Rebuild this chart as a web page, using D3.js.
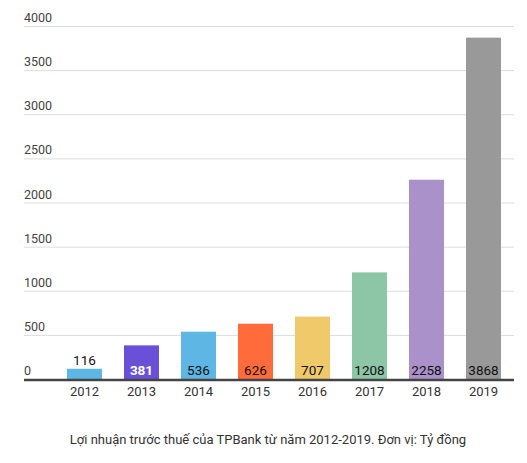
<!DOCTYPE html>
<html><head><meta charset="utf-8">
<script src="https://cdn.jsdelivr.net/npm/d3@7"></script>
<style>
html,body{margin:0;padding:0;background:#fff;}
svg{display:block;font-family:Roboto, "Noto Sans", sans-serif;}
</style></head>
<body>
<svg id="c" width="527" height="463"></svg>
<script>
const years = ["2012","2013","2014","2015","2016","2017","2018","2019"];
const profits = [116, 381, 536, 626, 707, 1208, 2258, 3868];
const barColors = ["#5db6e4","#6a50d8","#5db6e4","#ff6b3a","#f0ca6a","#8dc5a7","#aa91c9","#999999"];
const labelColors = ["#111","#fff","#111","#111","#111","#111","#111","#111"];
const yTicks = [0, 500, 1000, 1500, 2000, 2500, 3000, 3500, 4000];
const caption = "Lợi nhuận trước thuế của TPBank từ năm 2012-2019. Đơn vị: Tỷ đồng";

const svg = d3.select("#c");
const left = 24, right = 514;
const y = d3.scaleLinear().domain([0, 4000]).range([379, 26]);
const x = d3.scaleBand().domain(years).range([56, 512]).paddingInner(22/57).paddingOuter(11/57);

// gridlines + tick labels
const g = svg.append("g");
yTicks.forEach(t => {
  if (t !== 0) {
    g.append("line").attr("x1", left).attr("x2", right)
      .attr("y1", y(t) + 0.5).attr("y2", y(t) + 0.5)
      .attr("stroke", "#dcdcdc").attr("stroke-width", 1);
  }
  g.append("text").attr("x", left).attr("y", y(t) - 4)
    .attr("font-size", 12.5).attr("fill", "#444").text(t);
});

// bars
svg.append("g").selectAll("rect").data(years).join("rect")
  .attr("x", d => x(d)).attr("width", x.bandwidth())
  .attr("y", (d,i) => y(profits[i])).attr("height", (d,i) => y(0) - y(profits[i]))
  .attr("fill", (d,i) => barColors[i]);

// baseline
svg.append("line").attr("x1", left).attr("x2", right)
  .attr("y1", y(0) + 1).attr("y2", y(0) + 1)
  .attr("stroke", "#444").attr("stroke-width", 2.5);

// value labels
svg.append("g").selectAll("text").data(years).join("text")
  .attr("x", d => x(d) + x.bandwidth()/2)
  .attr("y", (d,i) => (y(0) - y(profits[i]) > 20) ? y(0) - 4 : y(profits[i]) - 4)
  .attr("text-anchor", "middle").attr("font-size", 13.5)
  .attr("font-weight", (d,i) => i === 1 ? "bold" : "normal")
  .attr("fill", (d,i) => (y(0) - y(profits[i]) > 20) ? labelColors[i] : "#111")
  .text((d,i) => profits[i]);

// x axis labels
svg.append("g").selectAll("text").data(years).join("text")
  .attr("x", d => x(d) + x.bandwidth()/2).attr("y", 396)
  .attr("text-anchor", "middle").attr("font-size", 13)
  .attr("fill", "#333").text(d => d);

// caption
svg.append("text").attr("x", 268).attr("y", 444).attr("text-anchor", "middle")
  .attr("font-size", 13).attr("fill", "#333").text(caption);
</script>
</body></html>
